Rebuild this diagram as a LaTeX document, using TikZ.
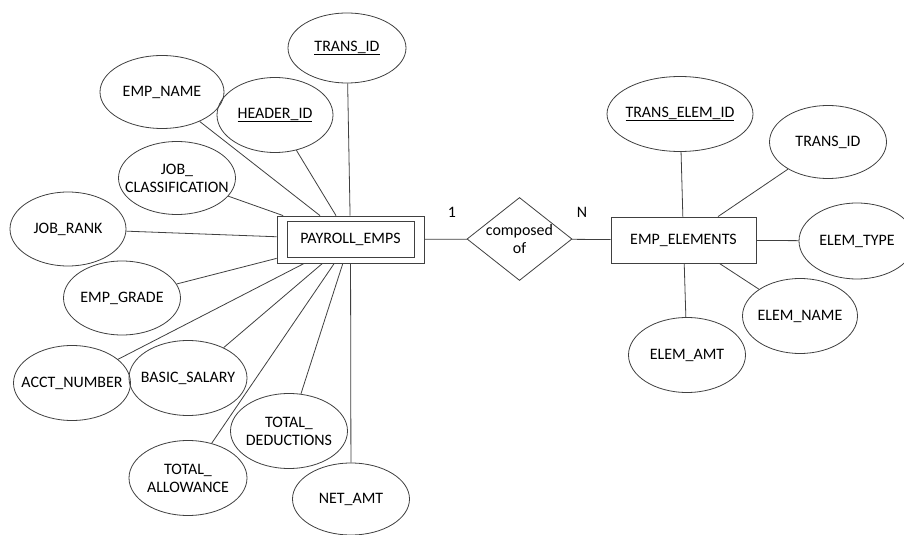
\documentclass[tikz,border=0pt]{standalone}
\usepackage{fontspec}
\setmainfont{Carlito}
\usetikzlibrary{shapes.geometric}
\begin{document}
\begin{tikzpicture}[x=1bp,y=-1bp,
  font=\fontsize{16}{18}\selectfont,
  line/.style={draw=black!75, line width=0.8bp},
  attr/.style={ellipse, draw=black!75, line width=0.8bp, inner sep=0pt, minimum width=117bp, minimum height=74bp},
  every label/.style={align=center, text=black, inner sep=0pt},
  entbox/.style={rectangle, draw=black!75, line width=0.8bp, inner sep=0pt, text=black},
  rel/.style={diamond, draw=black!75, line width=0.8bp, inner sep=0pt, minimum width=105bp, minimum height=83bp},
  card/.style={inner sep=0pt, text=black},
]
\clip (0,0) rectangle (904,535);
\fill[white] (0,0) rectangle (904,535);

% entity PAYROLL_EMPS (double box)
\node[entbox, minimum width=147bp, minimum height=47bp] (pe) at (350.5,239.5) {};
\node[entbox, minimum width=127bp, minimum height=36bp] (pein) at (350.5,239.5) {PAYROLL\_EMPS};

% relationship
\node[rel, label={center:composed\\of}] (rel) at (519.5,239) {};

% entity EMP_ELEMENTS
\node[entbox, minimum width=145bp, minimum height=46bp] (ee) at (683.5,240) {EMP\_ELEMENTS};

% cardinalities
\node[card] (one) at (452,212) {1};
\node[card] (nn) at (582,212) {N};

% attributes of PAYROLL_EMPS
\node[attr, minimum width=118bp, minimum height=70bp, label={center:\underline{TRANS\_ID}}] (tid1) at (347,48) {};
\node[attr, minimum width=124bp, minimum height=73bp, label={center:EMP\_NAME}] (ename) at (162,92) {};
\node[attr, minimum width=116bp, minimum height=75bp, label={center:\underline{HEADER\_ID}}] (hid) at (275,115) {};
\node[attr, minimum height=73bp, label={center:JOB\_\\CLASSIFICATION}] (jclass) at (177,178) {};
\node[attr, minimum width=116bp, label={center:JOB\_RANK}] (jrank) at (68,229) {};
\node[attr, label={center:EMP\_GRADE}] (egrade) at (122,298) {};
\node[attr, minimum height=75bp, label={center:ACCT\_NUMBER}] (acct) at (72,383) {};
\node[attr, minimum width=118bp, minimum height=75bp, label={center:BASIC\_SALARY}] (basic) at (188,378) {};
\node[attr, minimum height=75bp, label={center:TOTAL\_\\DEDUCTIONS}] (tded) at (289,431) {};
\node[attr, minimum width=118bp, minimum height=75bp, label={center:TOTAL\_\\ALLOWANCE}] (tallow) at (188,478) {};
\node[attr, minimum height=72bp, label={center:NET\_AMT}] (netamt) at (351,499) {};

% attributes of EMP_ELEMENTS
\node[attr, minimum width=146bp, minimum height=75bp, label={center:\underline{TRANS\_ELEM\_ID}}] (teid) at (680,114) {};
\node[attr, minimum height=73bp, label={center:TRANS\_ID}] (tid2) at (828,142) {};
\node[attr, minimum width=116bp, minimum height=76bp, label={center:ELEM\_TYPE}] (etype) at (857,241) {};
\node[attr, minimum width=115bp, minimum height=75bp, label={center:ELEM\_NAME}] (ename2) at (800,316) {};
\node[attr, minimum height=75bp, label={center:ELEM\_AMT}] (eamt) at (687,355) {};

% connectors
\foreach \a in {tid1,ename,hid,jclass,jrank,egrade,acct,basic,tded,tallow,netamt}
  \draw[line] (\a) -- (pe);
\draw[line] (pe) -- (rel);
\draw[line] (rel) -- (ee);
\foreach \a in {teid,tid2,etype,ename2,eamt}
  \draw[line] (\a) -- (ee);
\end{tikzpicture}
\end{document}
